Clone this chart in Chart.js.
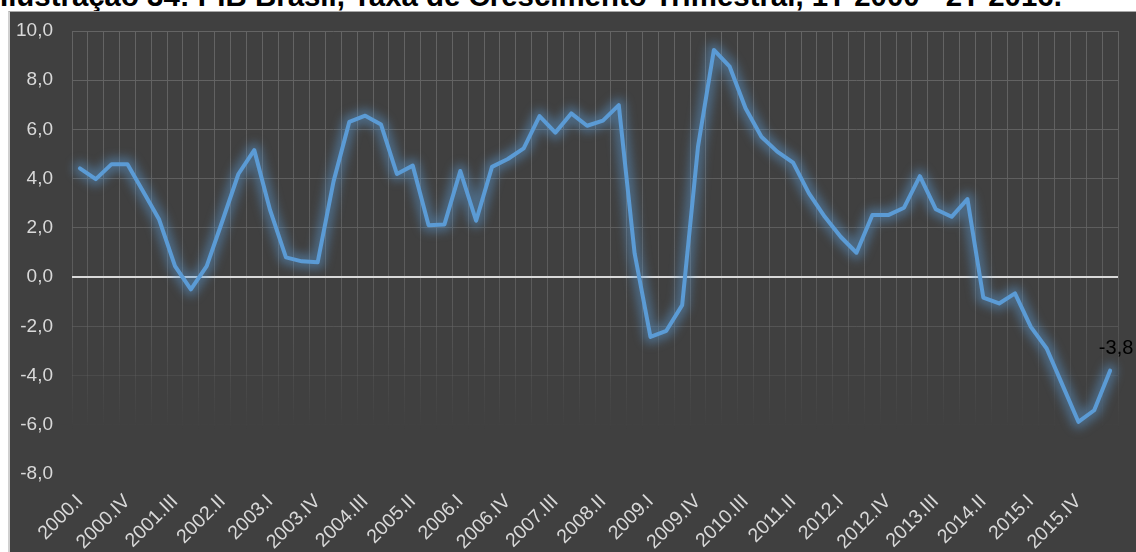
<!DOCTYPE html>
<html>
<head>
<meta charset="utf-8">
<script src="https://cdn.jsdelivr.net/npm/chart.js@4.4.1/dist/chart.umd.min.js"></script>
<style>
  html, body { margin: 0; padding: 0; background: #ffffff; width: 1136px; height: 552px; overflow: hidden; }
  #title { position: absolute; left: 0; top: -17px; font-family: "Liberation Sans", Arial, sans-serif; font-weight: bold; font-size: 29px; color: #000; white-space: nowrap; line-height: 29px; }
  #panel { position: absolute; left: 8px; top: 11px; width: 1128px; height: 541px; background: #404040; border-left: 2px solid #d0d0d0; border-top: 1px solid #a8a8a8; box-sizing: border-box; }
  #wrap { position: absolute; left: 0; top: 0; width: 1136px; height: 552px; }
</style>
</head>
<body>
<div id="title">Ilustração 34: PIB Brasil, Taxa de Crescimento Trimestral, 1T 2000 - 2T 2016.</div>
<div id="panel"></div>
<div id="wrap"><canvas id="c" width="1136" height="552"></canvas></div>
<script>
const categories = [
  '2000.I','2000.II','2000.III','2000.IV',
  '2001.I','2001.II','2001.III','2001.IV',
  '2002.I','2002.II','2002.III','2002.IV',
  '2003.I','2003.II','2003.III','2003.IV',
  '2004.I','2004.II','2004.III','2004.IV',
  '2005.I','2005.II','2005.III','2005.IV',
  '2006.I','2006.II','2006.III','2006.IV',
  '2007.I','2007.II','2007.III','2007.IV',
  '2008.I','2008.II','2008.III','2008.IV',
  '2009.I','2009.II','2009.III','2009.IV',
  '2010.I','2010.II','2010.III','2010.IV',
  '2011.I','2011.II','2011.III','2011.IV',
  '2012.I','2012.II','2012.III','2012.IV',
  '2013.I','2013.II','2013.III','2013.IV',
  '2014.I','2014.II','2014.III','2014.IV',
  '2015.I','2015.II','2015.III','2015.IV',
  '2016.I','2016.II'
];
const growth = [
  4.42, 3.98, 4.59, 4.59,
  3.47, 2.34, 0.45, -0.50,
  0.45, 2.30, 4.19, 5.16,
  2.72, 0.80, 0.64, 0.60,
  3.88, 6.31, 6.56, 6.20,
  4.19, 4.53, 2.11, 2.14,
  4.31, 2.29, 4.48, 4.80,
  5.23, 6.54, 5.87, 6.65,
  6.15, 6.36, 6.99, 0.96,
  -2.43, -2.18, -1.14, 5.30,
  9.23, 8.55, 6.86, 5.70,
  5.10, 4.65, 3.40, 2.45,
  1.64, 0.99, 2.52, 2.52,
  2.82, 4.10, 2.76, 2.45,
  3.17, -0.83, -1.07, -0.66,
  -2.02, -2.90, -4.39, -5.88,
  -5.41, -3.80
];
const tickLabels = [
  '2000.I','2000.IV','2001.III','2002.II','2003.I','2003.IV','2004.III','2005.II',
  '2006.I','2006.IV','2007.III','2008.II','2009.I','2009.IV','2010.III','2011.II',
  '2012.I','2012.IV','2013.III','2014.II','2015.I','2015.IV'
];
const yTicks = [-8, -6, -4, -2, 0, 2, 4, 6, 8, 10];

const fmt = v => v.toFixed(1).replace('.', ',');

// fit title width to the reference
(function () {
  const t = document.getElementById('title');
  const w = t.getBoundingClientRect().width;
  const size = 29 * 1062 / w;
  t.style.fontSize = size.toFixed(2) + 'px';
  t.style.lineHeight = size.toFixed(2) + 'px';
  t.style.top = (6 - 0.8465 * size).toFixed(2) + 'px';
})();

function gridColor(ctx) {
  const chart = ctx.chart;
  const a = chart.chartArea;
  if (ctx.scale && ctx.scale.axis === 'y' && ctx.tick && ctx.tick.value === 0) return '#d9d9d9';
  if (!a) return 'rgba(98,98,98,1)';
  const g = chart.ctx.createLinearGradient(0, a.top, 0, a.bottom);
  g.addColorStop(0, 'rgba(100,100,100,1)');
  g.addColorStop(0.6, 'rgba(100,100,100,0.75)');
  g.addColorStop(0.78, 'rgba(100,100,100,0.3)');
  g.addColorStop(0.9, 'rgba(100,100,100,0)');
  g.addColorStop(1, 'rgba(100,100,100,0)');
  return g;
}

const glow = {
  id: 'glow',
  beforeDatasetDraw(chart, args) {
    if (args.index !== 1) return;
    const c = chart.ctx;
    c.save();
    c.filter = 'blur(5px)';
  },
  afterDatasetDraw(chart, args) {
    if (args.index !== 1) return;
    chart.ctx.restore();
  }
};

const lastLabel = {
  id: 'lastLabel',
  afterDatasetsDraw(chart) {
    const meta = chart.getDatasetMeta(0);
    const i = growth.length - 1;
    const pt = meta.data[i];
    const c = chart.ctx;
    c.save();
    c.font = '20px "Liberation Sans", Arial, sans-serif';
    c.fillStyle = '#000000';
    c.textAlign = 'center';
    c.textBaseline = 'middle';
    c.fillText(fmt(growth[i]), pt.x + 6, pt.y - 22);
    c.restore();
  }
};

new Chart(document.getElementById('c'), {
  type: 'line',
  data: {
    labels: categories,
    datasets: [{
      data: growth,
      borderColor: '#5b9bd5',
      borderWidth: 4,
      pointRadius: 0,
      tension: 0,
      fill: false,
      borderJoinStyle: 'round',
      borderCapStyle: 'round'
    }, {
      data: growth,
      borderColor: 'rgba(91,155,213,0.45)',
      borderWidth: 14,
      pointRadius: 0,
      tension: 0,
      fill: false,
      borderJoinStyle: 'round',
      borderCapStyle: 'round'
    }]
  },
  options: {
    responsive: false,
    animation: false,
    events: [],
    layout: { padding: { left: 0, top: 31, right: 18, bottom: 0 } },
    plugins: { legend: { display: false }, tooltip: { enabled: false }, title: { display: false } },
    scales: {
      x: {
        offset: true,
        grid: { offset: true, color: gridColor, lineWidth: 1, drawTicks: false },
        border: { display: false },
        ticks: {
          autoSkip: false,
          maxRotation: 45,
          minRotation: 45,
          padding: 16,
          color: '#d9d9d9',
          font: { family: '"Liberation Sans", Arial, sans-serif', size: 19.5 },
          callback: function(v, i) { return tickLabels.includes(categories[i]) ? categories[i] : ''; }
        },
        afterFit(scale) { scale.height = 78; scale.paddingLeft = 0; scale.paddingRight = 0; }
      },
      y: {
        min: -8, max: 10,
        afterBuildTicks(scale) { scale.ticks = yTicks.map(v => ({ value: v })); },
        grid: {
          color: gridColor,
          lineWidth: ctx => (ctx.tick && ctx.tick.value === 0 ? 2 : 1),
          drawTicks: false
        },
        border: { display: false },
        ticks: {
          padding: 19,
          color: '#d9d9d9',
          font: { family: '"Liberation Sans", Arial, sans-serif', size: 19 },
          callback: v => fmt(v)
        },
        afterFit(scale) { scale.width = 72; scale.paddingTop = 0; scale.paddingBottom = 0; }
      }
    }
  },
  plugins: [glow, lastLabel]
});
</script>
</body>
</html>
